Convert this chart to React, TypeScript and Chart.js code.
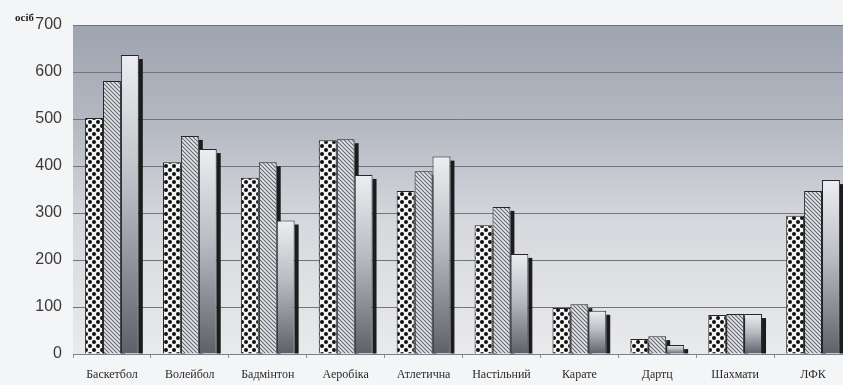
import React, { useEffect, useRef } from "react";
import { Chart, registerables } from "chart.js";

Chart.register(...registerables);

const categories = [
  "Баскетбол",
  "Волейбол",
  "Бадмінтон",
  "Аеробіка",
  "Атлетична",
  "Настільний",
  "Карате",
  "Дартц",
  "Шахмати",
  "ЛФК",
];
const series1 = [502, 408, 375, 455, 347, 274, 98, 32, 83, 294];
const series2 = [581, 464, 408, 457, 389, 313, 106, 38, 85, 347];
const series3 = [636, 436, 284, 381, 420, 213, 92, 19, 85, 370];
const yTicks = [0, 100, 200, 300, 400, 500, 600, 700];
const yUnit = "осіб";

function makeDots(): CanvasPattern | string {
  const c = document.createElement("canvas");
  c.width = 8;
  c.height = 8;
  const g = c.getContext("2d");
  if (!g) return "#fff";
  g.fillStyle = "#f4f4f4";
  g.fillRect(0, 0, 8, 8);
  g.fillStyle = "#111";
  for (const [x, y] of [[2, 2], [6, 6], [-2, 6], [6, -2], [2, 10], [10, 2], [-2, -2], [10, 10], [-2, 10], [10, -2]]) {
    g.beginPath();
    g.arc(x, y, 2.0, 0, Math.PI * 2);
    g.fill();
  }
  return g.createPattern(c, "repeat") || "#fff";
}

function makeHatch(): CanvasPattern | string {
  const c = document.createElement("canvas");
  c.width = 4;
  c.height = 4;
  const g = c.getContext("2d");
  if (!g) return "#ccc";
  g.fillStyle = "#e6e7ea";
  g.fillRect(0, 0, 4, 4);
  g.strokeStyle = "#62656c";
  g.lineWidth = 1.1;
  g.beginPath();
  g.moveTo(-1, -1);
  g.lineTo(5, 5);
  g.moveTo(-1, 3);
  g.lineTo(1, 5);
  g.moveTo(3, -1);
  g.lineTo(5, 1);
  g.stroke();
  return g.createPattern(c, "repeat") || "#ccc";
}

const shadowPlugin = {
  id: "barShadow",
  beforeDatasetsDraw(chart: any) {
    const ctx = chart.ctx;
    ctx.save();
    ctx.fillStyle = "#1c1c1e";
    chart.data.datasets.forEach((_d: any, di: number) => {
      const meta = chart.getDatasetMeta(di);
      meta.data.forEach((el: any) => {
        const right = el.x + el.width / 2;
        const top = el.y + 4;
        if (el.base - top > 0) ctx.fillRect(right, top, 4, el.base - top);
      });
    });
    ctx.restore();
  },
};

const bgPlugin = {
  id: "plotBg",
  beforeDraw(chart: any) {
    const { ctx, chartArea: a, width, height } = chart;
    ctx.save();
    ctx.fillStyle = "#f4f5f7";
    ctx.fillRect(0, 0, width, height);
    const gr = ctx.createLinearGradient(0, a.top, 0, a.bottom);
    gr.addColorStop(0, "#9ea4b0");
    gr.addColorStop(0.3, "#b4b8c1");
    gr.addColorStop(0.6, "#d6d8dd");
    gr.addColorStop(1, "#e9eaec");
    ctx.fillStyle = gr;
    ctx.fillRect(a.left, a.top, a.right - a.left, a.bottom - a.top);
    ctx.restore();
  },
  afterDraw(chart: any) {
    const ctx = chart.ctx;
    ctx.save();
    ctx.fillStyle = "#1e1e1e";
    ctx.font = "bold 11px 'Liberation Serif'";
    ctx.textBaseline = "alphabetic";
    ctx.fillText(yUnit, 15, 21);
    ctx.restore();
  },
};

export default function App() {
  const ref = useRef<HTMLCanvasElement | null>(null);
  useEffect(() => {
    document.body.style.margin = "0";
    document.body.style.overflow = "hidden";
    const canvas = ref.current;
    if (!canvas) return;
    const dots = makeDots();
    const hatch = makeHatch();
    const gradFill = (context: any) => {
      const chart = context.chart;
      const ys = chart.scales && chart.scales.y;
      const v = context.raw;
      if (!ys || typeof v !== "number") return "#aaa";
      const top = ys.getPixelForValue(v);
      const base = ys.getPixelForValue(0);
      if (!isFinite(top) || !isFinite(base)) return "#aaa";
      const g = chart.ctx.createLinearGradient(0, top, 0, Math.max(base, top + 1));
      g.addColorStop(0, "#eceef1");
      g.addColorStop(0.45, "#b9bcc2");
      g.addColorStop(1, "#5d6066");
      return g;
    };
    const common = {
      borderColor: "#262626",
      borderWidth: 1,
      borderSkipped: "bottom" as const,
      categoryPercentage: 0.69,
      barPercentage: 1,
    };
    const chart = new Chart(canvas, {
      type: "bar",
      data: {
        labels: categories,
        datasets: [
          { label: "1", data: series1, backgroundColor: dots, ...common },
          { label: "2", data: series2, backgroundColor: hatch, ...common },
          { label: "3", data: series3, backgroundColor: gradFill, ...common },
        ],
      },
      options: {
        responsive: false,
        animation: false,
        layout: { padding: { top: 25, right: 1, left: 0, bottom: 0 } },
        plugins: {
          legend: { display: false },
          tooltip: { enabled: false },
        },
        scales: {
          x: {
            offset: true,
            grid: {
              display: true,
              offset: true,
              drawOnChartArea: false,
              drawTicks: true,
              tickLength: 4,
              color: "#8a8d94",
            },
            border: { display: true, color: "#7c8088", width: 1 },
            ticks: {
              color: "#2a2a2a",
              font: { family: "'Liberation Serif'", size: 12 },
              padding: 10,
              maxRotation: 0,
              autoSkip: false,
            },
            afterFit(scale: any) {
              scale.height = 31;
            },
          },
          y: {
            min: 0,
            max: 700,
            afterBuildTicks(scale: any) {
              scale.ticks = yTicks.map((v) => ({ value: v }));
            },
            grid: {
              color: "#6f747e",
              lineWidth: 1,
              drawTicks: false,
            },
            border: { display: false },
            ticks: {
              color: "#3a3a3a",
              font: { family: "'Liberation Sans'", size: 16 },
              padding: 11,
            },
            afterFit(scale: any) {
              scale.width = 73;
            },
          },
        },
      },
      plugins: [bgPlugin, shadowPlugin],
    });
    return () => chart.destroy();
  }, []);
  return (
    <div style={{ width: 843, height: 385, overflow: "hidden" }}>
      <canvas ref={ref} width={853} height={385} style={{ display: "block" }} />
    </div>
  );
}
